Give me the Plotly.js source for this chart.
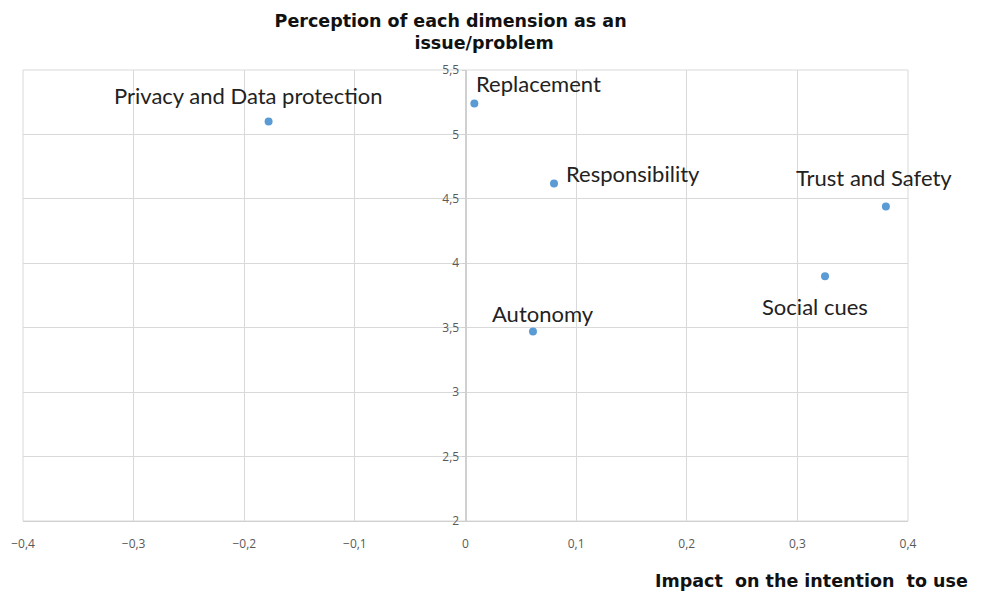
<!DOCTYPE html>
<html>
<head>
<meta charset="utf-8">
<script src="https://cdn.plot.ly/plotly-3.0.1.min.js"></script>
<style>html,body{margin:0;padding:0;background:#fff;}#chart{width:986px;height:592px;}</style>
</head>
<body>
<div id="chart"></div>
<script>
const dimensions = ["Privacy and Data protection", "Replacement", "Responsibility", "Trust and Safety", "Social cues", "Autonomy"];
const impactOnIntention = [-0.178, 0.008, 0.080, 0.380, 0.325, 0.061];
const perceptionAsIssue = [5.10, 5.24, 4.62, 4.44, 3.90, 3.47];
const xTickValues = [-0.4, -0.3, -0.2, -0.1, 0, 0.1, 0.2, 0.3, 0.4];
const yTickValues = [2, 2.5, 3, 3.5, 4, 4.5, 5, 5.5];

// label placement (styling, not data)
const labelAnchor = ['center', 'left', 'left', 'center', 'center', 'center'];
const labelShift = [[-20, 26], [0, 20], [10, 10], [-12, 29], [-10, -30], [10, 18]];

const annotations = dimensions.map((d, i) => ({
  x: impactOnIntention[i], y: perceptionAsIssue[i], xref: 'x', yref: 'y',
  text: d, showarrow: false,
  xanchor: labelAnchor[i],
  xshift: labelShift[i][0], yshift: labelShift[i][1],
  font: {family: 'Lato, Open Sans, sans-serif', size: 22, color: '#222'}
}));
annotations.push({
  xref: 'paper', yref: 'paper', x: 0.712, y: -0.133, xanchor: 'left', yanchor: 'middle',
  text: '<b>Impact  on the intention  to use</b>', showarrow: false,
  font: {family: 'DejaVu Sans, Verdana, sans-serif', size: 17.5, color: '#111'}
});

const trace = {
  type: 'scatter', mode: 'markers',
  x: impactOnIntention, y: perceptionAsIssue, text: dimensions,
  marker: {color: '#5b9bd5', size: 8},
  hoverinfo: 'text'
};

const layout = {
  width: 986, height: 592,
  margin: {l: 23, r: 78, t: 70, b: 71},
  paper_bgcolor: '#fff', plot_bgcolor: '#fff',
  separators: ',.',
  showlegend: false,
  title: {
    text: '<b>Perception of each dimension as an<br>           issue/problem</b>',
    x: 0.457, xanchor: 'center', y: 0.955, yanchor: 'top',
    font: {family: 'DejaVu Sans, Verdana, sans-serif', size: 17.5, color: '#111'}
  },
  xaxis: {
    range: [-0.4, 0.4], tickvals: xTickValues,
    showgrid: true, gridcolor: '#d9d9d9', gridwidth: 1,
    zeroline: true, zerolinecolor: '#d0d0d0', zerolinewidth: 1,
    showline: true, linecolor: '#d0d0d0', mirror: false,
    ticks: '', ticklabelstandoff: 12,
    tickfont: {family: 'Open Sans, sans-serif', size: 12, color: '#595959'},
    fixedrange: true
  },
  yaxis: {
    range: [2, 5.5], tickvals: yTickValues,
    anchor: 'free', position: 0.5,
    showgrid: true, gridcolor: '#d9d9d9', gridwidth: 1,
    zeroline: false,
    showline: true, linecolor: '#d0d0d0',
    ticks: 'outside', ticklen: 4, tickcolor: '#d0d0d0',
    tickfont: {family: 'Open Sans, sans-serif', size: 12, color: '#595959'},
    fixedrange: true
  },
  shapes: [{type: 'rect', xref: 'paper', yref: 'paper', x0: 0, x1: 1, y0: 0, y1: 1,
            line: {color: '#d9d9d9', width: 1}, layer: 'below'}],
  annotations: annotations
};

Plotly.newPlot('chart', [trace], layout, {displayModeBar: false, staticPlot: true});
</script>
</body>
</html>
